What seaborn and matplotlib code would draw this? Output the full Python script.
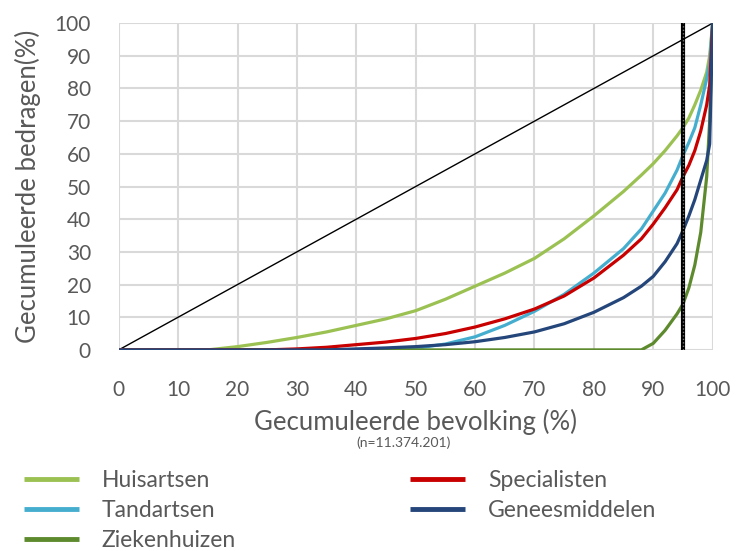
import matplotlib
matplotlib.use('Agg')
import matplotlib.pyplot as plt
import seaborn as sns
import pandas as pd

# shared x grid (cumulative population %)
x_pct = [0, 10, 15, 20, 25, 30, 35, 40, 45, 50, 55, 60, 65, 70, 75, 80, 85, 88,
         90, 92, 94, 95, 96, 97, 98, 99, 99.5, 100]

huisartsen = [0, 0, 0, 1, 2.3, 3.8, 5.5, 7.5, 9.5, 12, 15.5, 19.5, 23.5, 28, 34, 41, 48.5, 53.5,
              57, 61, 65.5, 68, 71, 75, 79.5, 85, 90, 100]
specialisten = [0, 0, 0, 0, 0, 0.3, 0.8, 1.6, 2.4, 3.5, 5, 7, 9.5, 12.5, 16.5, 22, 29, 34,
                38.5, 43.5, 49, 53, 56.5, 61, 67, 75, 81, 100]
tandartsen = [0, 0, 0, 0, 0, 0, 0, 0, 0, 0.5, 1.8, 4, 7.5, 11.8, 17, 23.5, 31, 37,
              42.5, 48, 55, 59.5, 63.5, 68, 75, 83, 88, 100]
geneesmiddelen = [0, 0, 0, 0, 0, 0, 0, 0.3, 0.6, 1, 1.6, 2.5, 3.8, 5.5, 8, 11.5, 16, 19.5,
                  22.5, 27, 32.5, 36.5, 41, 46, 52, 58, 63, 100]
ziekenhuizen = [0, 0, 0, 0, 0, 0, 0, 0, 0, 0, 0, 0, 0, 0, 0, 0, 0, 0,
                2, 6, 11, 14, 19, 26, 36, 53, 70, 100]

diagonal = [0, 100]
cutoff = 95

series = {
    'Huisartsen': huisartsen,
    'Tandartsen': tandartsen,
    'Ziekenhuizen': ziekenhuizen,
    'Specialisten': specialisten,
    'Geneesmiddelen': geneesmiddelen,
}
colors = {
    'Huisartsen': '#9BC153',
    'Tandartsen': '#45AECF',
    'Ziekenhuizen': '#5E8A2E',
    'Specialisten': '#C80000',
    'Geneesmiddelen': '#24467A',
}

if __name__ == '__main__':
    rows = []
    for name, vals in series.items():
        for xv, yv in zip(x_pct, vals):
            rows.append({'x': xv, 'y': yv, 'serie': name})
    df = pd.DataFrame(rows)

    sns.set_style('white')
    plt.rcParams['font.family'] = ['Lato', 'DejaVu Sans']
    grey = '#595959'

    fig = plt.figure(figsize=(7.47, 5.51), dpi=100)
    ax = fig.add_axes([0.159, 0.365, 0.795, 0.593])

    sns.lineplot(x=diagonal, y=diagonal, ax=ax, color='black', linewidth=1.0, legend=False)
    ax.axvline(cutoff, color='black', linewidth=3, zorder=4)
    ax.axvline(cutoff, color='#777777', linewidth=1, linestyle=(0, (1, 1.5)), zorder=5)
    sns.lineplot(data=df, x='x', y='y', hue='serie', hue_order=list(series.keys()),
                 palette=colors, linewidth=2.3, ax=ax, sort=False)

    ax.set_xlim(0, 100)
    ax.set_ylim(0, 100)
    ax.set_xticks(range(0, 101, 10))
    ax.set_yticks(range(0, 101, 10))
    ax.grid(True, color='#D9D9D9', linewidth=1.5)
    ax.set_axisbelow(True)
    for s in ax.spines.values():
        s.set_visible(False)
    ax.tick_params(axis='x', length=0, labelsize=15, labelcolor=grey, pad=22)
    ax.tick_params(axis='y', length=0, labelsize=15, labelcolor=grey, pad=20)

    ax.set_xlabel('Gecumuleerde bevolking (%)', fontsize=18.5, color=grey, va='center')
    ax.xaxis.set_label_coords(0.5, -0.222)
    ax.set_ylabel('Gecumuleerde bedragen(%)', fontsize=18.5, color=grey, va='center')
    ax.yaxis.set_label_coords(-0.153, 0.5)
    fig.text(0.54, 0.196, '(n=11.374.201)', fontsize=10, color=grey, ha='center', va='center')

    handles, labels = ax.get_legend_handles_labels()
    ax.legend_.remove()
    leg = fig.legend(handles, labels, ncol=2, loc='upper left', bbox_to_anchor=(0.0195, 0.163),
                     frameon=False, fontsize=16.5, handlelength=2.4, handletextpad=1.0,
                     columnspacing=7.6, labelspacing=0.38, labelcolor=grey, borderaxespad=0)
    for line in leg.get_lines():
        line.set_linewidth(3.5)
        line.set_solid_capstyle('butt')

    plt.savefig('out.png', dpi=100)
